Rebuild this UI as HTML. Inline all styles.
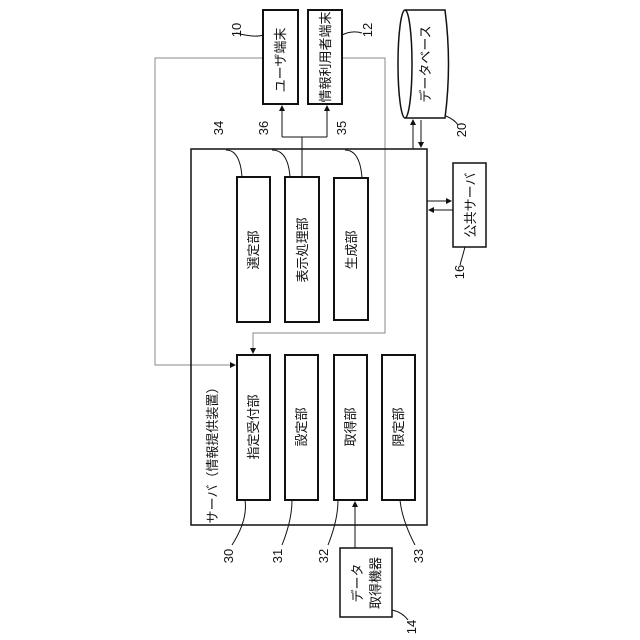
<!DOCTYPE html>
<html><head><meta charset="utf-8"><style>
html,body{margin:0;padding:0;background:#fff}
svg{display:block}
text{font-family:"Liberation Sans","Noto Sans CJK JP",sans-serif;font-size:13px;fill:#111}
</style></head><body>
<svg width="640" height="640" viewBox="0 0 640 640" xmlns="http://www.w3.org/2000/svg">
<defs>
<marker id="a" markerWidth="6" markerHeight="6" refX="5" refY="3" orient="auto" markerUnits="userSpaceOnUse"><path d="M0,0 L6,3 L0,6 z" fill="#111"/></marker>
</defs>
<g fill="none" stroke="#111">
<polyline points="263,58 155,58 155,365 235,365" stroke="#888" stroke-width="1" marker-end="url(#a)"/>
<polyline points="342,58 385,58 385,333 253,333 253,353" stroke="#888" stroke-width="1" marker-end="url(#a)"/>
<rect x="191" y="149" width="236" height="376" stroke-width="1.5"/>
<rect x="263" y="10" width="35" height="94" stroke-width="2"/>
<rect x="308" y="10" width="34" height="94" stroke-width="2"/>
<rect x="237" y="177" width="33" height="145" stroke-width="2"/>
<rect x="285" y="177" width="34" height="145" stroke-width="2"/>
<rect x="334" y="178" width="34" height="142" stroke-width="2"/>
<rect x="237" y="355" width="33" height="145" stroke-width="2"/>
<rect x="285" y="355" width="33" height="145" stroke-width="2"/>
<rect x="334" y="355" width="33" height="145" stroke-width="2"/>
<rect x="382" y="355" width="33" height="145" stroke-width="2"/>
<line x1="302" y1="177" x2="302" y2="137"/>
<line x1="282" y1="137" x2="327" y2="137"/>
<line x1="282" y1="137" x2="282" y2="106" marker-end="url(#a)"/>
<line x1="327" y1="137" x2="327" y2="106" marker-end="url(#a)"/>
<path d="M405,10 L445,10 Q452,64 445,118 L405,118" stroke-width="1.5"/>
<ellipse cx="405" cy="64" rx="7" ry="54" stroke-width="1.5"/>
<line x1="413" y1="149" x2="413" y2="120" marker-end="url(#a)"/>
<line x1="421" y1="120" x2="421" y2="147" marker-end="url(#a)"/>
<rect x="453" y="163" width="33" height="84" stroke-width="1.5"/>
<line x1="427" y1="201" x2="451" y2="201" marker-end="url(#a)"/>
<line x1="453" y1="210" x2="429" y2="210" marker-end="url(#a)"/>
<rect x="340" y="548" width="52" height="69" stroke-width="1.5"/>
<line x1="355" y1="548" x2="355" y2="502" marker-end="url(#a)"/>
<path d="M236,33 Q255,38 263,35" stroke-width="1"/>
<path d="M342,35 Q352,30 362,33" stroke-width="1"/>
<path d="M226,150 Q240,150 242,177" stroke-width="1"/>
<path d="M272,150 Q288,150 290,177" stroke-width="1"/>
<path d="M345,150 Q360,150 362,178" stroke-width="1"/>
<path d="M446,116 Q455,120 458,125" stroke-width="1"/>
<path d="M465,247 Q462,258 460,265" stroke-width="1"/>
<path d="M245,500 Q248,520 232,545" stroke-width="1"/>
<path d="M292,500 Q292,520 282,545" stroke-width="1"/>
<path d="M338,500 Q338,520 328,545" stroke-width="1"/>
<path d="M400,500 Q402,520 415,545" stroke-width="1"/>
<path d="M392,610 Q402,612 408,620" stroke-width="1"/>
</g>
<g>
<text transform="translate(280,60) rotate(-90)" text-anchor="middle" dy="5">ユーザ端末</text>
<text transform="translate(325,57) rotate(-90)" text-anchor="middle" dy="5" font-size="12">情報利用者端末</text>
<text transform="translate(425,64) rotate(-90)" text-anchor="middle" dy="5">データベース</text>
<text transform="translate(470,205) rotate(-90)" text-anchor="middle" dy="5">公共サーバ</text>
<text transform="translate(253,250) rotate(-90)" text-anchor="middle" dy="5">選定部</text>
<text transform="translate(302,250) rotate(-90)" text-anchor="middle" dy="5">表示処理部</text>
<text transform="translate(351,250) rotate(-90)" text-anchor="middle" dy="5">生成部</text>
<text transform="translate(253,427) rotate(-90)" text-anchor="middle" dy="5">指定受付部</text>
<text transform="translate(301,427) rotate(-90)" text-anchor="middle" dy="5">設定部</text>
<text transform="translate(350,427) rotate(-90)" text-anchor="middle" dy="5">取得部</text>
<text transform="translate(398,427) rotate(-90)" text-anchor="middle" dy="5">限定部</text>
<text transform="translate(212,452) rotate(-90)" text-anchor="middle" dy="5">サーバ（情報提供装置）</text>
<text transform="translate(357,583) rotate(-90)" text-anchor="middle" dy="5">データ</text>
<text transform="translate(375,583) rotate(-90)" text-anchor="middle" dy="5">取得機器</text>
<text transform="translate(237,30) rotate(-90)" text-anchor="middle" dy="4" font-size="12">10</text>
<text transform="translate(368,30) rotate(-90)" text-anchor="middle" dy="4" font-size="12">12</text>
<text transform="translate(219,128) rotate(-90)" text-anchor="middle" dy="4" font-size="12">34</text>
<text transform="translate(264,128) rotate(-90)" text-anchor="middle" dy="4" font-size="12">36</text>
<text transform="translate(342,128) rotate(-90)" text-anchor="middle" dy="4" font-size="12">35</text>
<text transform="translate(462,130) rotate(-90)" text-anchor="middle" dy="4" font-size="12">20</text>
<text transform="translate(460,272) rotate(-90)" text-anchor="middle" dy="4" font-size="12">16</text>
<text transform="translate(229,556) rotate(-90)" text-anchor="middle" dy="4" font-size="12">30</text>
<text transform="translate(278,556) rotate(-90)" text-anchor="middle" dy="4" font-size="12">31</text>
<text transform="translate(324,556) rotate(-90)" text-anchor="middle" dy="4" font-size="12">32</text>
<text transform="translate(419,556) rotate(-90)" text-anchor="middle" dy="4" font-size="12">33</text>
<text transform="translate(412,627) rotate(-90)" text-anchor="middle" dy="4" font-size="12">14</text>
</g>
</svg>
</body></html>
